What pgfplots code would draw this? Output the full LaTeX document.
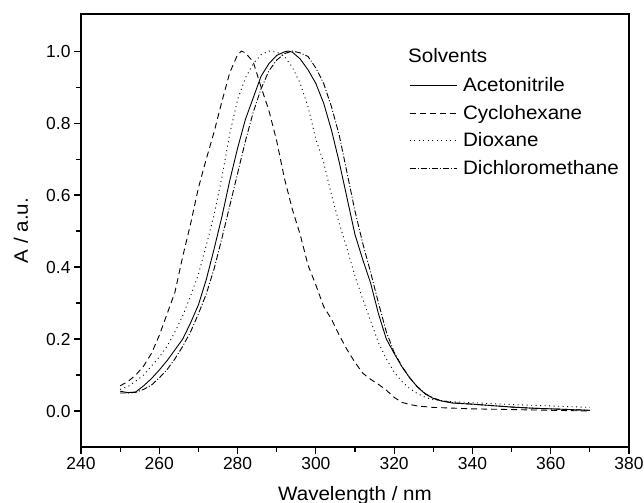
\documentclass[border=0pt]{standalone}
\usepackage{pgfplots}
\pgfplotsset{compat=1.18}
\usepackage{fontspec}
\setmainfont{Liberation Sans}
\newfontfamily\lblfont{Liberation Sans}[FakeStretch=1.06]
\usetikzlibrary{calc}
\begin{document}
\begin{tikzpicture}
\begin{axis}[
  scale only axis,
  width=548bp, height=433bp,
  xmin=240, xmax=380, ymin=-0.1, ymax=1.103,
  xtick={240,260,...,380},
  ytick={0,0.2,...,1.0},
  minor xtick={250,270,...,370},
  minor ytick={0.1,0.3,0.5,0.7,0.9},
  xtick pos=lower, ytick pos=left,
  tick align=outside,
  major tick length=7bp, minor tick length=4.5bp,
  every tick/.style={black, line width=1.1bp},
  axis line style={line width=1.3bp},
  /pgf/number format/assume math mode=true,
  /pgf/number format/fixed, /pgf/number format/fixed zerofill, /pgf/number format/precision=1,
  xticklabel style={font=\fontsize{17.5}{20}\selectfont, /pgf/number format/precision=0, /pgf/number format/fixed zerofill=false},
  yticklabel style={font=\fontsize{17.5}{20}\selectfont},
  xlabel={Wavelength / nm},
  ylabel={A / a.u.},
  x label style={font=\lblfont\fontsize{19.5}{22}\selectfont, at={(axis description cs:0.5,0)}, anchor=base, yshift=-53bp},
  y label style={font=\lblfont\fontsize{19.5}{22}\selectfont, at={(axis description cs:0,0.5)}, anchor=base, yshift=53bp},
  legend style={draw=none, fill=none, at={(axis description cs:0.5985,0.858)}, anchor=north west, inner sep=0pt,
    font=\lblfont\fontsize{19.5}{22}\selectfont, row sep=8bp,
    nodes={inner ysep=2bp, inner xsep=6bp}},
  legend cell align=left,
  legend image code/.code={\draw[#1] (0bp,0bp) -- (47bp,0bp);},
  every axis plot/.append style={line width=0.9bp, black},
]
\addplot[solid] coordinates {
(250,0.055)(252,0.051)(254,0.053)(256,0.07)(258,0.09)(260,0.114)(262,0.14)(264,0.17)(266,0.20)(268,0.245)(270,0.295)(272,0.365)(274,0.45)(276,0.54)(278,0.64)(280,0.73)(282,0.81)(284,0.87)(286,0.93)(288,0.965)(290,0.988)(292,0.998)(293,1.0)(294,0.997)(296,0.978)(298,0.948)(300,0.91)(302,0.855)(304,0.78)(306,0.69)(308,0.59)(310,0.49)(312,0.42)(314,0.355)(316,0.27)(318,0.20)(320,0.16)(322,0.123)(324,0.092)(326,0.066)(328,0.047)(330,0.035)(332,0.028)(335,0.022)(340,0.019)(345,0.015)(350,0.011)(355,0.008)(360,0.006)(365,0.004)(370,0.002)
};
\addlegendentry{Acetonitrile}
\addplot[dash pattern=on 6bp off 4bp] coordinates {
(250,0.07)(252,0.082)(254,0.10)(256,0.125)(258,0.16)(260,0.21)(262,0.27)(264,0.33)(266,0.43)(268,0.52)(270,0.62)(272,0.70)(274,0.775)(276,0.86)(278,0.94)(280,0.99)(281,1.0)(282,0.995)(284,0.97)(286,0.90)(288,0.835)(290,0.75)(292,0.645)(294,0.56)(296,0.49)(298,0.405)(300,0.35)(302,0.29)(304,0.255)(306,0.21)(308,0.17)(310,0.135)(312,0.105)(314,0.088)(316,0.074)(318,0.058)(320,0.038)(322,0.024)(324,0.018)(326,0.014)(330,0.01)(340,0.006)(350,0.004)(360,0.002)(370,0.0)
};
\addlegendentry{Cyclohexane}
\addplot[dash pattern=on 1bp off 3.5bp] coordinates {
(250,0.06)(252,0.068)(254,0.083)(256,0.10)(258,0.125)(260,0.15)(262,0.18)(264,0.22)(266,0.265)(268,0.32)(270,0.38)(272,0.46)(274,0.545)(276,0.65)(278,0.77)(280,0.865)(282,0.925)(284,0.965)(286,0.99)(288,1.0)(290,0.997)(292,0.985)(294,0.955)(296,0.91)(298,0.845)(300,0.755)(302,0.69)(304,0.60)(306,0.52)(308,0.45)(310,0.375)(312,0.31)(314,0.25)(316,0.19)(318,0.145)(320,0.108)(322,0.082)(324,0.062)(326,0.048)(328,0.038)(330,0.031)(335,0.026)(340,0.023)(350,0.018)(360,0.014)(370,0.01)
};
\addlegendentry{Dioxane}
\addplot[dash pattern=on 6bp off 2bp on 1bp off 2bp] coordinates {
(250,0.05)(252,0.05)(254,0.052)(256,0.06)(258,0.072)(260,0.092)(262,0.115)(264,0.145)(266,0.18)(268,0.22)(270,0.27)(272,0.325)(274,0.395)(276,0.48)(278,0.57)(280,0.66)(282,0.75)(284,0.83)(286,0.895)(288,0.945)(290,0.975)(292,0.993)(294,1.0)(296,0.995)(298,0.985)(300,0.953)(302,0.91)(304,0.845)(306,0.765)(308,0.66)(310,0.555)(312,0.465)(314,0.385)(316,0.30)(318,0.22)(320,0.163)(322,0.124)(324,0.092)(326,0.067)(328,0.048)(330,0.036)(332,0.029)(335,0.023)(340,0.019)(345,0.015)(350,0.011)(355,0.008)(360,0.006)(365,0.004)(370,0.002)
};
\addlegendentry{Dichloromethane}
\node[anchor=base west, font=\lblfont\fontsize{19.5}{22}\selectfont, inner sep=0pt] at (axis description cs:0.5967,0.889) {Solvents};
\end{axis}
\pgfresetboundingbox
\path ($(current axis.south west)+(-81bp,-56bp)$) rectangle ($(current axis.north east)+(15bp,14bp)$);
\end{tikzpicture}
\end{document}
